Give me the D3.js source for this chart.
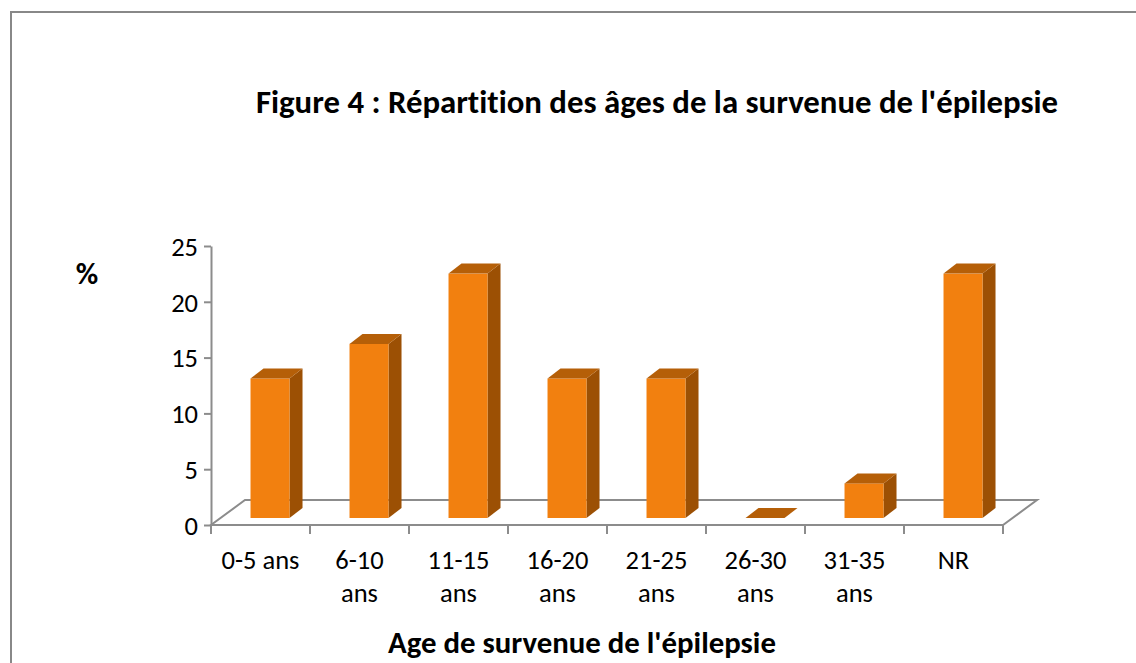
<!DOCTYPE html>
<html><head><meta charset="utf-8">
<script src="https://cdn.jsdelivr.net/npm/d3@7"></script>
<style>
html,body{margin:0;padding:0;background:#fff;}
svg text{font-family:Carlito, Calibri, Lato, "Open Sans", sans-serif;fill:#000;font-variant-ligatures:none;}
</style></head>
<body>
<svg id="c" width="1136" height="663"></svg>
<script>
const categories = ["0-5 ans","6-10 ans","11-15 ans","16-20 ans","21-25 ans","26-30 ans","31-35 ans","NR"];
const values = [12.5, 15.6, 21.9, 12.5, 12.5, 0, 3.1, 21.9];
const yTicks = [0, 5, 10, 15, 20, 25];
const titleText = "Figure 4 : Répartition des âges de la survenue de l'épilepsie";
const xTitle = "Age de survenue de l'épilepsie";
const yTitle = "%";

const svg = d3.select("#c");
const W = 1136, H = 663;

// chart border
svg.append("rect").attr("x",11).attr("y",12).attr("width",W+20).attr("height",H+20)
  .attr("fill","#fff").attr("stroke","#888").attr("stroke-width",2);

const x = d3.scaleBand().domain(categories).range([211, 1003]);
const y = d3.scaleLinear().domain([0, 25]).range([525, 246]);

const depthX = 34, depthY = -25;       // floor depth
const barDepthFrac = 0.28;             // bar front face position in depth
const barDX = 13, barDY = -10;         // bar own depth
const barW = x.bandwidth() * 0.394;

// floor
const x0 = x.range()[0], x1 = x.range()[1], y0 = y(0);
svg.append("polygon")
  .attr("points", [[x0,y0],[x1,y0],[x1+depthX,y0+depthY],[x0+depthX,y0+depthY]].map(p=>p.join(",")).join(" "))
  .attr("fill","#fff").attr("stroke","#8c8c8c").attr("stroke-width",2).attr("stroke-linejoin","miter");

// x axis ticks at band boundaries
const bounds = categories.map(c => x(c)).concat([x1]);
svg.append("g").selectAll("line").data(bounds).join("line")
  .attr("x1",d=>d).attr("x2",d=>d).attr("y1",y0).attr("y2",y0+9)
  .attr("stroke","#8c8c8c").attr("stroke-width",2);

// y axis
const yAxis = svg.append("g").attr("transform",`translate(${x0},0)`)
  .call(d3.axisLeft(y).tickValues(yTicks).tickSize(7).tickSizeOuter(0).tickPadding(6));
yAxis.select(".domain").attr("stroke","#8c8c8c").attr("stroke-width",2);
yAxis.selectAll(".tick line").attr("stroke","#8c8c8c").attr("stroke-width",2);
yAxis.selectAll(".tick text").attr("font-size",26.5).attr("dy","0.35em");

// bars
const offX = barDepthFrac*depthX, offY = barDepthFrac*depthY;
const bars = svg.append("g").selectAll("g").data(categories.map((c,i)=>({c, v:values[i]}))).join("g");
bars.each(function(d){
  const g = d3.select(this);
  const bx = x(d.c) + (x.bandwidth()-barW)/2 + offX;
  const by0 = y(0) + offY;
  const byT = y(d.v) + offY;
  if (d.v > 0) {
    g.append("polygon")
      .attr("points",[[bx+barW,by0],[bx+barW+barDX,by0+barDY],[bx+barW+barDX,byT+barDY],[bx+barW,byT]].map(p=>p.join(",")).join(" "))
      .attr("fill","#9C5004");
    g.append("rect").attr("x",bx).attr("y",byT).attr("width",barW).attr("height",by0-byT)
      .attr("fill","#F2800F");
  }
  g.append("polygon")
    .attr("points",[[bx,byT],[bx+barDX,byT+barDY],[bx+barW+barDX,byT+barDY],[bx+barW,byT]].map(p=>p.join(",")).join(" "))
    .attr("fill","#B55F08");
});

// x labels
const xl = svg.append("g");
categories.forEach(c => {
  const lines = c.length > 7 ? c.split(" ") : [c];
  const t = xl.append("text").attr("x", x(c)+x.bandwidth()/2).attr("y",569)
    .attr("text-anchor","middle").attr("font-size",26.5);
  lines.forEach((l,i)=> t.append("tspan").attr("x", x(c)+x.bandwidth()/2).attr("dy", i? 33:0).text(l));
});

// titles
svg.append("text").attr("x",657).attr("y",113).attr("text-anchor","middle")
  .attr("font-size",32.8).attr("font-weight","bold").text(titleText);
svg.append("text").attr("x",582).attr("y",653).attr("text-anchor","middle")
  .attr("font-size",30.8).attr("font-weight","bold").text(xTitle);
svg.append("text").attr("x",87).attr("y",284).attr("text-anchor","middle")
  .attr("font-size",30.8).attr("font-weight","bold").text(yTitle);
</script>
</body></html>
